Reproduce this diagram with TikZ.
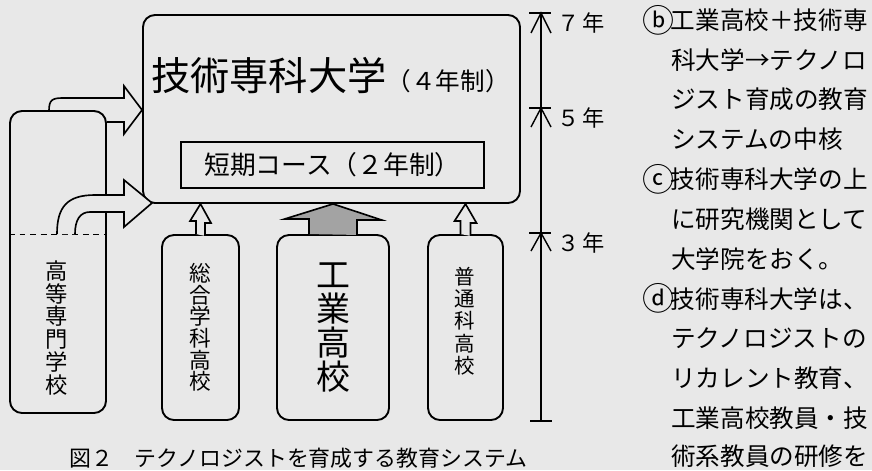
\documentclass[tikz,border=0pt]{standalone}
\usepackage{fontspec}
\setmainfont{Noto Sans CJK JP}
\usepackage{xcolor}
\usepackage{graphicx}
\usepackage{tikz}

\definecolor{paper}{gray}{0.91}
\definecolor{shade}{gray}{0.64}
\newcommand{\circled}[1]{\makebox[1em]{\raisebox{-0.1em}{\scalebox{1.3}{#1}}}}

\begin{document}
\begin{tikzpicture}[x=0.03cm, y=-0.03cm,
  box/.style={draw, line width=1.6pt, rounded corners=0.36cm, inner sep=0pt},
  hollow/.style={draw, line width=1.4pt, line join=miter, fill=paper},
  tick/.style={line width=1.2pt},
  label/.style={anchor=west, inner sep=0pt}]
\useasboundingbox (0,0) rectangle (872,470);
\fill[paper] (0,0) rectangle (872,470);

% the university and its short course
\node[box, minimum width=11.31cm, minimum height=5.64cm] (univ) at (331.5,109) {};
\node[label] (univtitle) at (151,76) {\fontsize{33.5pt}{34pt}\selectfont 技術専科大学\fontsize{21pt}{22pt}\selectfont （４年制）};
\node[draw, line width=1.1pt, minimum width=9.09cm, minimum height=1.38cm, font=\fontsize{22pt}{23pt}\selectfont] (short) at (332.5,165) {短期コース（２年制）};

% schools below
\node[box, minimum width=2.88cm, minimum height=9.06cm] (kosen) at (58,262) {};
\node[align=center, font=\fontsize{19pt}{19.6pt}\selectfont] (kosentext) at (57,328) {高\\等\\専\\門\\学\\校};
\node[box, minimum width=2.31cm, minimum height=5.55cm, align=center, font=\fontsize{18.5pt}{18.45pt}\selectfont] (sogo) at (200.5,327.5) {総\\合\\学\\科\\高\\校};
\node[box, minimum width=3.36cm, minimum height=5.55cm, align=center, font=\fontsize{29pt}{29.1pt}\selectfont] (kogyo) at (333,327.5) {工\\業\\高\\校};
\node[box, minimum width=2.25cm, minimum height=5.55cm] (futsu) at (465.5,327.5) {};
\node[align=center, font=\fontsize{17.5pt}{19pt}\selectfont] (futsutext) at (465,321) {普\\通\\科\\高\\校};

\draw[line width=0.6pt, dash pattern=on 5pt off 4pt] (kosen.west |- 0,234) -- (kosen.east |- 0,234);

% arrows into the university
\draw[line width=1.4pt, line join=miter] (49,111) .. controls (49,100) and (52,98) .. (63,98) -- (124,98) -- (124,86) -- (univ.west |- 0,110) -- (124,134) -- (124,122) -- (kosen.east |- 0,122);
\draw[hollow] (57,234) .. controls (57,207) and (67,195) .. (95,195) -- (124,195) -- (124,180) -- (152,203) -- (124,227) -- (124,212) -- (90,212) .. controls (80,212) and (75,220) .. (75,234);
\draw[hollow] (sogo.north) ++(-4.5,0) -- ++(0,-13) -- ++(-6,0) -- (sogo.north |- univ.south) -- ++(10.5,19) -- ++(-6,0) -- ++(0,13);
\draw[hollow, fill=shade] (kogyo.north) ++(-24,0) -- ++(0,-15) -- ++(-24.5,0) -- (kogyo.north |- univ.south) -- ++(48.5,16) -- ++(-24.5,0) -- ++(0,15);
\draw[hollow] (futsu.north) ++(-5,0) -- ++(0,-13) -- ++(-6,0) -- (futsu.north |- univ.south) -- ++(11,19) -- ++(-6,0) -- ++(0,13);

% years
\coordinate (t7) at (541,13);
\coordinate (t5) at (541,108);
\coordinate (t3) at (541,233);
\coordinate (t0) at (541,421);
\draw[tick] (t7) -- (t0);
\draw[tick] ([xshift=-0.33cm]t0) -- ([xshift=0.33cm]t0);
\draw[tick] ([xshift=-0.36cm]t7) -- ([xshift=0.3cm]t7);
\draw[tick] ([shift={(-10,20)}]t7) -- (t7) -- ++(10,20);
\draw[tick] ([xshift=-0.36cm]t5) -- ([xshift=0.3cm]t5);
\draw[tick] ([shift={(-10,19)}]t5) -- (t5) -- ++(10,19);
\draw[tick] ([xshift=-0.36cm]t3) -- ([xshift=0.3cm]t3);
\draw[tick] ([shift={(-10,18)}]t3) -- (t3) -- ++(10,18);
\node[label, font=\fontsize{19pt}{19pt}\selectfont] (y7) at (557,23) {７\hspace{0.12em}年};
\node[label, font=\fontsize{19pt}{19pt}\selectfont] (y5) at (557,118) {５\hspace{0.12em}年};
\node[label, font=\fontsize{19pt}{19pt}\selectfont] (y3) at (557,243) {３\hspace{0.12em}年};

% caption
\node[label, font=\fontsize{18.7pt}{19pt}\selectfont] (caption) at (69,458) {図２　テクノロジストを育成する教育システム};

% notes on the right
\node[label, font=\fontsize{21pt}{21pt}\selectfont] (nb1) at (646,20) {\circled{ⓑ}工業高校＋技術専};
\node[label, font=\fontsize{21pt}{21pt}\selectfont] (nb2) at (671,59.8) {科大学→テクノロ};
\node[label, font=\fontsize{21pt}{21pt}\selectfont] (nb3) at (671,99.6) {ジスト育成の教育};
\node[label, font=\fontsize{21pt}{21pt}\selectfont] (nb4) at (671,139.4) {システムの中核};
\node[label, font=\fontsize{21pt}{21pt}\selectfont] (nc1) at (646,179.2) {\circled{ⓒ}技術専科大学の上};
\node[label, font=\fontsize{21pt}{21pt}\selectfont] (nc2) at (671,219) {に研究機関として};
\node[label, font=\fontsize{21pt}{21pt}\selectfont] (nc3) at (671,258.8) {大学院をおく。};
\node[label, font=\fontsize{21pt}{21pt}\selectfont] (nd1) at (646,298.6) {\circled{ⓓ}技術専科大学は、};
\node[label, font=\fontsize{21pt}{21pt}\selectfont] (nd2) at (671,338.4) {テクノロジストの};
\node[label, font=\fontsize{21pt}{21pt}\selectfont] (nd3) at (671,378.2) {リカレント教育、};
\node[label, font=\fontsize{21pt}{21pt}\selectfont] (nd4) at (671,418) {工業高校教員・技};
\node[label, font=\fontsize{21pt}{21pt}\selectfont] (nd5) at (671,456.5) {術系教員の研修を};
\end{tikzpicture}
\end{document}
